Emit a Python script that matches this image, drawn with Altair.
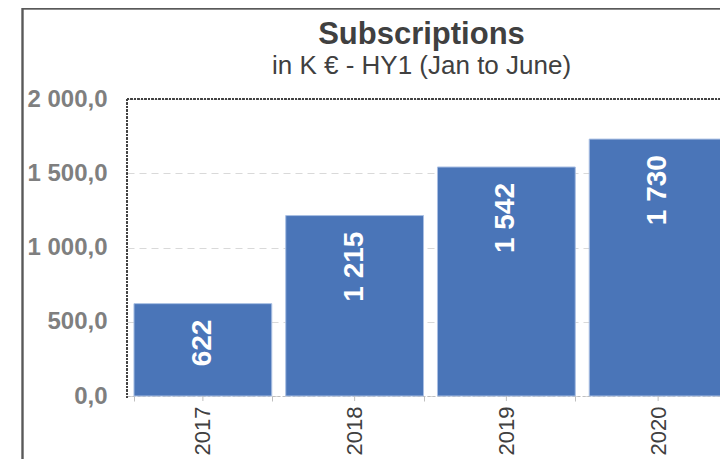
import altair as alt
import pandas as pd

years = ["2017", "2018", "2019", "2020"]
values = [622, 1215, 1542, 1730]
y_ticks = [0, 500, 1000, 1500, 2000]

df = pd.DataFrame({"year": years, "value": values})

W, H = 593, 297      # visible plot area (page is cropped at the right)
W_FULL = 607         # full band range of the x scale
FONT = "Liberation Sans"
BAR = "#4a75b8"

x_enc = alt.X(
    "year:N",
    sort=years,
    scale=alt.Scale(paddingInner=0.092, paddingOuter=0.046, range=[0, W_FULL]),
    axis=alt.Axis(
        title=None, labelAngle=-90, labelFontSize=22, labelColor="#404040",
        labelFont=FONT, labelPadding=5,
        domain=True, domainColor="#bfbfbf", domainDash=[3, 2], domainWidth=1,
        ticks=True, tickBand="extent", tickColor="#bfbfbf", tickSize=5,
        grid=False,
    ),
)
y_enc = alt.Y(
    "value:Q",
    scale=alt.Scale(domain=[0, 2000], nice=False),
    axis=alt.Axis(
        title=None, values=y_ticks, domain=False, ticks=False, tickSize=0,
        labelFontSize=24, labelFontWeight="bold", labelColor="#7f7f7f",
        labelFont=FONT, labelPadding=20,
        labelExpr="replace(replace(format(datum.value, ',.1f'), ',', ' '), '.', ',')",
        grid=True, gridColor="#d9d9d9", gridDash=[7, 5], gridWidth=1,
    ),
)

bars = alt.Chart(df).mark_bar(
    color=BAR, stroke="#a9bfe3", strokeWidth=1
).encode(x=x_enc, y=y_enc)

labels = alt.Chart(df).transform_calculate(
    label="replace(format(datum.value, ','), ',', ' ')"
).mark_text(
    angle=270, align="right", baseline="middle", dx=-16,
    fontSize=28, fontWeight="bold", color="white", font=FONT
).encode(x=alt.X("year:N", sort=years), y="value:Q", text="label:N")

center_ticks = alt.Chart(df).mark_rule(color="#bfbfbf", strokeWidth=1).encode(
    x=alt.X("year:N", sort=years), y=alt.value(H), y2=alt.value(H + 5)
)

left_line = alt.Chart(df).mark_rule(
    color="#404040", strokeWidth=2, strokeDash=[2, 1.5]
).encode(x=alt.value(0), y=alt.value(0), y2=alt.value(H + 2))

top_line = alt.Chart(df).mark_rule(
    color="#404040", strokeWidth=2, strokeDash=[2, 1.5]
).encode(x=alt.value(0), x2=alt.value(W_FULL), y=alt.value(0))

frame = alt.Chart(df).mark_rect(
    fillOpacity=0, stroke="#595959", strokeWidth=1.5
).encode(
    x=alt.value(-104.5), y=alt.value(-90.5),
    x2=alt.value(W_FULL + 60), y2=alt.value(H + 120)
)

chart = alt.layer(
    frame, bars, labels, center_ticks, left_line, top_line
).properties(
    width=W, height=H,
    title=alt.TitleParams(
        text="Subscriptions",
        subtitle="in K € - HY1 (Jan to June)",
        font=FONT, fontSize=31, fontWeight="bold", color="#404040",
        subtitleFont=FONT, subtitleFontSize=26, subtitleColor="#404040",
        anchor="middle", frame="group", offset=14, subtitlePadding=2,
        dy=86, dx=-2,
    ),
    padding={"left": 119, "top": 91, "right": 0, "bottom": 63},
    autosize=alt.AutoSizeParams(type="none"),
).configure_view(stroke=None)

chart.save("out.html", embed_options={"renderer": "svg", "actions": False})
